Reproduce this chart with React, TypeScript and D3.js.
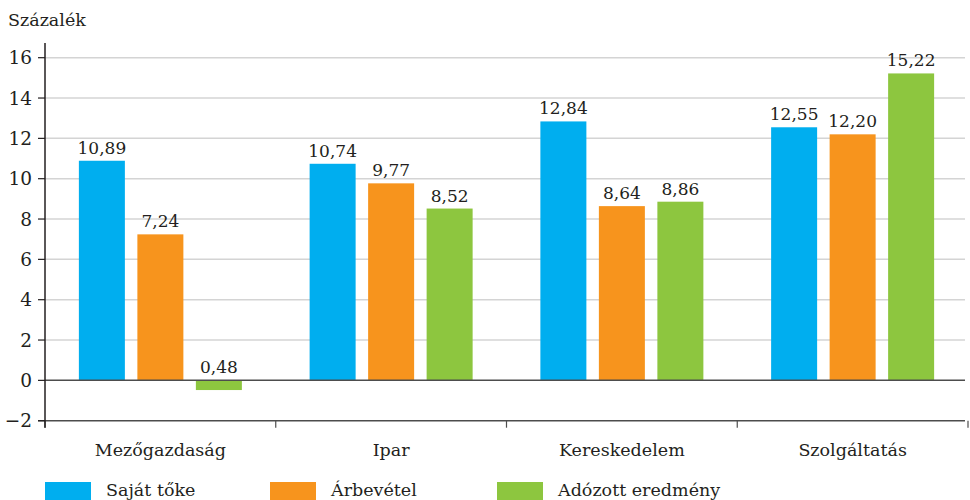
import React from "react";
import * as d3 from "d3";

const categories = ["Mezőgazdaság", "Ipar", "Kereskedelem", "Szolgáltatás"];
const seriesNames = ["Saját tőke", "Árbevétel", "Adózott eredmény"];
const sajatToke = [10.89, 10.74, 12.84, 12.55];
const arbevetel = [7.24, 9.77, 8.64, 12.2];
const adozott = [-0.48, 8.52, 8.86, 15.22];
const valueLabels = [
  ["10,89", "10,74", "12,84", "12,55"],
  ["7,24", "9,77", "8,64", "12,20"],
  ["0,48", "8,52", "8,86", "15,22"],
];
const yTicks = [-2, 0, 2, 4, 6, 8, 10, 12, 14, 16];
const colors = ["#00AEEF", "#F7941D", "#8DC63F"];

const W = 970;
const H = 500;
const FONT = "'DejaVu Serif', 'Liberation Serif', serif";
const TEXT = "#231f20";
const FS = 17.5;

export default function App() {
  const series = [sajatToke, arbevetel, adozott];
  const left = 45;
  const right = 968;
  const y = d3.scaleLinear().domain([-2, 16]).range([420.7, 57.7]);
  const x0 = d3.scaleBand<string>().domain(categories).range([left, right]).padding(0);
  const barW = 46;
  const step = 58.5;
  const bounds = d3.range(categories.length + 1).map((i) => left + i * x0.step());

  return (
    <svg width={W} height={H} style={{ position: "absolute", left: 0, top: 0, fontFamily: FONT }}>
      <rect width={W} height={H} fill="#fff" />
      <text x={8} y={26} fontSize={17.5} fill={TEXT}>Százalék</text>
      {yTicks.filter((t) => t !== -2 && t !== 0).map((t) => (
        <line key={t} x1={left} x2={right - 3} y1={y(t)} y2={y(t)} stroke="#d4d4d4" strokeWidth={1.5} />
      ))}
      {series.map((vals, si) =>
        vals.map((v, ci) => {
          const cx = (x0(categories[ci]) as number) + x0.bandwidth() / 2;
          const bx = cx + (si - 1) * step - barW / 2;
          const top = y(Math.max(0, v));
          const bottom = y(Math.min(0, v));
          const labelY = y(Math.max(0, v)) - 7;
          return (
            <g key={`${si}-${ci}`}>
              <rect x={bx} y={top} width={barW} height={bottom - top} fill={colors[si]} />
              <text x={bx + barW / 2} y={labelY} textAnchor="middle" fontSize={17} fill={TEXT}>
                {valueLabels[si][ci]}
              </text>
            </g>
          );
        })
      )}
      <line x1={left} x2={right - 3} y1={y(0)} y2={y(0)} stroke="#4d4d4d" strokeWidth={1.5} />
      <line x1={left - 7} x2={right - 3} y1={y(-2)} y2={y(-2)} stroke="#4d4d4d" strokeWidth={1.5} />
      {bounds.map((b, i) => (
        <line key={i} x1={b} x2={b} y1={y(-2)} y2={y(-2) + 7} stroke="#4d4d4d" strokeWidth={1.2} />
      ))}
      <line x1={left} x2={left} y1={43} y2={y(-2) + 7} stroke="#231f20" strokeWidth={1.5} />
      {yTicks.map((t) => (
        <g key={t}>
          <line x1={left - 7} x2={left} y1={y(t)} y2={y(t)} stroke="#231f20" strokeWidth={1.2} />
          <text x={left - 13} y={y(t) + 6.5} textAnchor="end" fontSize={18.5} fill={TEXT}>
            {t < 0 ? `\u2212${Math.abs(t)}` : t}
          </text>
        </g>
      ))}
      {categories.map((c) => (
        <text key={c} x={(x0(c) as number) + x0.bandwidth() / 2} y={456} textAnchor="middle" fontSize={FS} fill={TEXT}>
          {c}
        </text>
      ))}
      {seriesNames.map((n, i) => {
        const lx = [45, 270, 497][i];
        return (
          <g key={n}>
            <rect x={lx} y={482} width={46} height={18} fill={colors[i]} />
            <text x={lx + 61} y={496} fontSize={FS} fill={TEXT}>{n}</text>
          </g>
        );
      })}
    </svg>
  );
}
